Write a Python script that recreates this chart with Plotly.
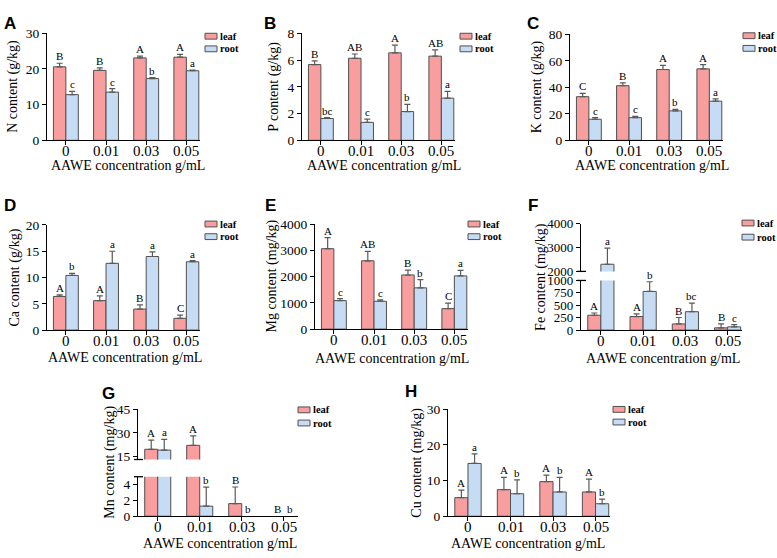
import plotly.graph_objects as go

# ---------------- data ----------------
categories = ["0", "0.01", "0.03", "0.05"]

N_leaf = [20.6, 19.6, 23.1, 23.3]
N_leaf_err = [1.0, 0.7, 0.5, 0.8]
N_root = [12.8, 13.5, 17.3, 19.5]
N_root_err = [0.9, 1.0, 0.3, 0.2]
N_leaf_letters = ["B", "B", "A", "A"]
N_root_letters = ["c", "c", "b", "a"]

P_leaf = [5.66, 6.13, 6.54, 6.29]
P_leaf_err = [0.28, 0.32, 0.58, 0.47]
P_root = [1.63, 1.34, 2.15, 3.15]
P_root_err = [0.07, 0.25, 0.53, 0.51]
P_leaf_letters = ["B", "AB", "A", "AB"]
P_root_letters = ["bc", "c", "b", "a"]

K_leaf = [32.9, 41.2, 53.4, 53.9]
K_leaf_err = [2.5, 2.2, 3.2, 3.2]
K_root = [15.9, 17.1, 22.2, 29.5]
K_root_err = [1.2, 0.9, 1.2, 1.7]
K_leaf_letters = ["C", "B", "A", "A"]
K_root_letters = ["c", "c", "b", "a"]

Ca_leaf = [6.4, 5.6, 4.0, 2.24]
Ca_leaf_err = [0.3, 0.9, 0.8, 0.6]
Ca_root = [10.4, 12.7, 14.0, 13.0]
Ca_root_err = [0.4, 2.3, 0.9, 0.2]
Ca_leaf_letters = ["A", "A", "B", "C"]
Ca_root_letters = ["b", "a", "a", "a"]

Mg_leaf = [3060, 2600, 2060, 780]
Mg_leaf_err = [420, 360, 185, 210]
Mg_root = [1085, 1060, 1570, 2025]
Mg_root_err = [75, 50, 310, 210]
Mg_leaf_letters = ["A", "AB", "B", "C"]
Mg_root_letters = ["c", "c", "b", "a"]

Fe_leaf = [299, 273, 123, 45]
Fe_leaf_err = [45, 52, 130, 78]
Fe_root = [2300, 779, 370, 65]
Fe_root_err = [680, 195, 175, 45]
Fe_leaf_letters = ["A", "A", "B", "B"]
Fe_root_letters = ["a", "b", "bc", "c"]

Mn_leaf = [19.5, 22.0, 1.6, 0]
Mn_leaf_err = [5.8, 6.0, 2.1, 0]
Mn_root = [19.0, 1.28, 0, 0]
Mn_root_err = [6.8, 2.4, 0, 0]
Mn_leaf_letters = ["A", "A", "B", "B"]
Mn_root_letters = ["a", "b", "b", "b"]

Cu_leaf = [5.2, 7.45, 9.7, 6.8]
Cu_leaf_err = [2.1, 3.45, 1.8, 3.6]
Cu_root = [14.8, 6.3, 6.8, 3.5]
Cu_root_err = [2.7, 3.9, 4.1, 1.3]
Cu_leaf_letters = ["A", "A", "A", "A"]
Cu_root_letters = ["a", "b", "b", "b"]

series_names = ["leaf", "root"]
x_title = "AAWE concentration g/mL"

# ---------------- style / layout ----------------
W, H = 777, 558
LEAF = "#F89E9E"
ROOT = "#C6DBF4"
EDGE = "#505050"
ERR = "#5a5a5a"
SERIF = "Times New Roman"
SANS = "Arial"
XRANGE = [-0.47, 3.34]
BAR_HALF = 0.155


def px(x):
    return x / W


def py(y):
    return 1 - y / H


panels = [
    dict(label="A", lab=(2, 5), x=(47, 200), ytitle="N content (g/kg)", ytx=13, tfs=13.5,
         segs=[(27, 137, [0, 30], [0, 10, 20, 30])],
         d=(N_leaf, N_leaf_err, N_root, N_root_err, N_leaf_letters, N_root_letters),
         xt=(128, 162), leg=(205, 30, 43)),
    dict(label="B", lab=(262, 5), x=(302, 455), ytitle="P content (g/kg)", ytx=274, tfs=13.5,
         segs=[(27, 137, [0, 8], [0, 2, 4, 6, 8])],
         d=(P_leaf, P_leaf_err, P_root, P_root_err, P_leaf_letters, P_root_letters),
         xt=(384, 162), leg=(460, 30, 43)),
    dict(label="C", lab=(525, 5), x=(570, 723), ytitle="K content (g/kg)", ytx=537, tfs=13.5,
         segs=[(28, 137, [0, 80], [0, 20, 40, 60, 80])],
         d=(K_leaf, K_leaf_err, K_root, K_root_err, K_leaf_letters, K_root_letters),
         xt=(652, 162), leg=(743, 29.5, 42.5)),
    dict(label="D", lab=(2, 192), x=(47, 200), ytitle="Ca content (g/kg)", ytx=15, tfs=13.5,
         segs=[(224, 332, [0, 20], [0, 5, 10, 15, 20])],
         d=(Ca_leaf, Ca_leaf_err, Ca_root, Ca_root_err, Ca_leaf_letters, Ca_root_letters),
         xt=(125, 359), leg=(205, 223, 236)),
    dict(label="E", lab=(263, 192), x=(315, 468), ytitle="Mg content (mg/kg)", ytx=272, tfs=13.5,
         segs=[(223, 331, [0, 4000], [0, 1000, 2000, 3000, 4000])],
         d=(Mg_leaf, Mg_leaf_err, Mg_root, Mg_root_err, Mg_leaf_letters, Mg_root_letters),
         xt=(392, 360), leg=(468, 223, 236)),
    dict(label="F", lab=(526, 192), x=(581, 742), ytitle="Fe content (mg/kg)", ytx=541, tfs=13,
         segs=[(281, 332, [0, 1000], [0, 250, 500, 750, 1000]),
               (222.7, 271.7, [2000, 4000], [2000, 3000, 4000])],
         d=(Fe_leaf, Fe_leaf_err, Fe_root, Fe_root_err, Fe_leaf_letters, Fe_root_letters),
         xt=(663, 360), leg=(742, 222, 236.5)),
    dict(label="G", lab=(100, 385), x=(138, 298), ytitle="Mn content (mg/kg)", ytx=110, tfs=13.5,
         segs=[(482.7, 523.3, [0, 5], [0, 2, 4]),
               (413.3, 465, [13, 45], [15, 30, 45])],
         d=(Mn_leaf, Mn_leaf_err, Mn_root, Mn_root_err, Mn_leaf_letters, Mn_root_letters),
         xt=(220, 550), leg=(298, 414, 427.5)),
    dict(label="H", lab=(403, 383), x=(448, 610), ytitle="Cu content (mg/kg)", ytx=417, tfs=13.5,
         segs=[(413.3, 523.3, [0, 30], [0, 10, 20, 30])],
         d=(Cu_leaf, Cu_leaf_err, Cu_root, Cu_root_err, Cu_leaf_letters, Cu_root_letters),
         xt=(528, 550), leg=(613, 413.5, 426.5)),
]

fig = go.Figure()
layout = {}
annotations = []
shapes = []

axis_line = dict(showline=True, linecolor="black", linewidth=1.3, ticks="outside",
                 ticklen=4, tickwidth=1.3, tickcolor="black", showgrid=False,
                 zeroline=False)

yidx = 0
for k, p in enumerate(panels, start=1):
    xname = "x" if k == 1 else f"x{k}"
    xkey = "xaxis" if k == 1 else f"xaxis{k}"
    leaf, leaf_err, root, root_err, leaf_let, root_let = p["d"]
    seg_ids = []
    for s_i, (ytop, ybot, yr, tv) in enumerate(p["segs"]):
        yidx += 1
        yname = "y" if yidx == 1 else f"y{yidx}"
        ykey = "yaxis" if yidx == 1 else f"yaxis{yidx}"
        seg_ids.append((yname, yr))
        layout[ykey] = dict(axis_line, domain=[py(ybot), py(ytop)], range=yr,
                            tickvals=tv, ticktext=[str(v) for v in tv],
                            tickfont=dict(family=SERIF, size=p["tfs"], color="black"),
                            anchor=xname, fixedrange=True)
        if s_i == 0:
            layout[xkey] = dict(axis_line, domain=[px(p["x"][0]), px(p["x"][1])],
                                range=XRANGE, tickvals=list(range(len(categories))),
                                showticklabels=False, anchor=yname)
            # x tick labels
            for i, cat in enumerate(categories):
                annotations.append(dict(x=i, y=py(ybot + 11), xref=xname, yref="paper",
                                        text=cat, showarrow=False, xanchor="center",
                                        yanchor="middle",
                                        font=dict(family=SERIF, size=15, color="black")))
        for vals, errs, color in ((leaf, leaf_err, LEAF), (root, root_err, ROOT)):
            yv = [v if v > 0 else None for v in vals]
            ev = [e if e > 0 else None for e in errs]
            fig.add_trace(go.Bar(
                x=list(range(len(categories))), y=yv, xaxis=xname, yaxis=yname,
                marker=dict(color=color, line=dict(color=EDGE, width=1)),
                error_y=dict(type="data", array=ev, arrayminus=[0] * len(ev),
                             symmetric=False, color=ERR, thickness=1.2, width=3),
                showlegend=False, hoverinfo="skip"))
        # break marks
        ax_x = p["x"][0]
        if len(p["segs"]) > 1:
            yb = ybot if s_i == 1 else ytop
            shapes.append(dict(type="line", xref="paper", yref="paper",
                               x0=px(ax_x - 4), x1=px(ax_x + 5), y0=py(yb), y1=py(yb),
                               line=dict(color="black", width=1.3)))

    # letters
    for vals, errs, lets, off in ((leaf, leaf_err, leaf_let, -BAR_HALF),
                                  (root, root_err, root_let, BAR_HALF)):
        for i, (v, e, t) in enumerate(zip(vals, errs, lets)):
            top = v + e
            yn = seg_ids[0][0]
            for (nm, yr) in seg_ids:
                if yr[0] <= top <= yr[1]:
                    yn = nm
            annotations.append(dict(x=i + off, y=top, xref=xname,
                                    yref=yn, text=t, showarrow=False,
                                    yanchor="bottom", xanchor="center", yshift=-1,
                                    font=dict(family=SERIF, size=11, color="black")))

    # panel label
    annotations.append(dict(x=px(p["lab"][0]), y=py(p["lab"][1]), xref="paper", yref="paper",
                            text=f"<b>{p['label']}</b>", showarrow=False,
                            xanchor="left", yanchor="top",
                            font=dict(family=SANS, size=17, color="black")))
    # y title
    ytop_all = min(s[0] for s in p["segs"])
    ybot_all = max(s[1] for s in p["segs"])
    annotations.append(dict(x=px(p["ytx"]), y=py((ytop_all + ybot_all) / 2), xref="paper",
                            yref="paper", text=p["ytitle"], textangle=-90, showarrow=False,
                            xanchor="center", yanchor="middle",
                            font=dict(family=SERIF, size=14, color="black")))
    # x title
    annotations.append(dict(x=px(p["xt"][0]), y=py(p["xt"][1] + 1), xref="paper", yref="paper",
                            text=x_title, showarrow=False, xanchor="center",
                            yanchor="middle",
                            font=dict(family=SERIF, size=14, color="black")))
    # legend
    lx, ly1, ly2 = p["leg"]
    for name, color, ly in ((series_names[0], LEAF, ly1), (series_names[1], ROOT, ly2)):
        shapes.append(dict(type="rect", xref="paper", yref="paper",
                           x0=px(lx), x1=px(lx + 12), y0=py(ly + 3), y1=py(ly - 3),
                           fillcolor=color, line=dict(color=EDGE, width=1)))
        annotations.append(dict(x=px(lx + 13), y=py(ly), xref="paper", yref="paper",
                                text=f"<b>{name}</b>", showarrow=False, xanchor="left",
                                yanchor="middle",
                                font=dict(family=SERIF, size=10.5, color="black")))

fig.update_layout(
    width=W, height=H, margin=dict(l=0, r=0, t=0, b=0),
    paper_bgcolor="white", plot_bgcolor="white",
    barmode="group", bargap=0.38, bargroupgap=0,
    annotations=annotations, shapes=shapes, showlegend=False,
    font=dict(family=SERIF),
    **layout,
)
fig.write_html("out.html", config={"displayModeBar": False},
               post_script="document.body.style.margin='0px';document.body.style.overflow='hidden';")
